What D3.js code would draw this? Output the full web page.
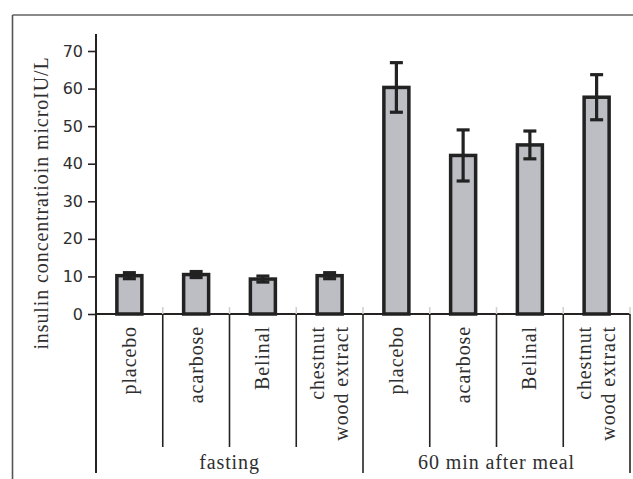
<!DOCTYPE html>
<html>
<head>
<meta charset="utf-8">
<script src="https://cdn.jsdelivr.net/npm/d3@7"></script>
<style>
  html, body { margin: 0; padding: 0; background: #fff; }
  svg { display: block; }
  .serif { font-family: 'Liberation Serif', 'Times New Roman', Times, serif; }
</style>
</head>
<body>
<script>
// ---- data ----
const groups = ["fasting", "60 min after meal"];
const treatments = [["placebo"], ["acarbose"], ["Belinal"], ["chestnut", "wood extract"]];
const fastingMeans = [10.2, 10.5, 9.3, 10.2];
const fastingErrors = [0.8, 0.8, 0.8, 0.8];
const mealMeans = [60.3, 42.2, 45.0, 57.7];
const mealErrors = [6.6, 6.8, 3.7, 6.0];
const yTicks = [0, 10, 20, 30, 40, 50, 60, 70];
const yLabel = "insulin concentratioin microIU/L";

const W = 633, H = 479;
const svg = d3.select("body").append("svg").attr("width", W).attr("height", H);

// rows
const rows = [];
groups.forEach((g, gi) => {
  const means = gi === 0 ? fastingMeans : mealMeans;
  const errs = gi === 0 ? fastingErrors : mealErrors;
  treatments.forEach((t, ti) => {
    rows.push({ key: gi + "-" + ti, group: g, gi, label: t, mean: means[ti], err: errs[ti] });
  });
});

const x = d3.scaleBand().domain(rows.map(d => d.key)).range([96, 630]).paddingInner(0).paddingOuter(0);
const y = d3.scaleLinear().domain([0, 70]).range([314, 51]);

// frame
svg.append("line").attr("x1", 12.5).attr("x2", W).attr("y1", 15).attr("y2", 15)
  .attr("stroke", "#8a8a8a").attr("stroke-width", 2);
svg.append("line").attr("x1", 12.5).attr("x2", 12.5).attr("y1", 15).attr("y2", H)
  .attr("stroke", "#555").attr("stroke-width", 1.6);

const ink = "#272222";

// y axis
const yAxis = d3.axisLeft(y).tickValues(yTicks).tickSize(8).tickSizeOuter(0).tickPadding(5);
const gy = svg.append("g").attr("transform", "translate(96,0)").call(yAxis);
gy.select(".domain").remove();
gy.selectAll(".tick line").attr("stroke", ink).attr("stroke-width", 1.6);
gy.selectAll(".tick text").attr("font-family", "DejaVu Sans, Verdana, sans-serif")
  .attr("font-size", 16).attr("fill", "#2f2f2f");
svg.append("line").attr("x1", 96).attr("x2", 96).attr("y1", y(74.5)).attr("y2", 473)
  .attr("stroke", ink).attr("stroke-width", 2);

// baseline
svg.append("line").attr("x1", 96).attr("x2", 630).attr("y1", y(0)).attr("y2", y(0))
  .attr("stroke", ink).attr("stroke-width", 2);

// separators
rows.forEach((d, i) => {
  const xr = x(d.key) + x.bandwidth();
  const isGroupEnd = (i % treatments.length) === treatments.length - 1;
  svg.append("line").attr("x1", xr).attr("x2", xr).attr("y1", y(0) - 7).attr("y2", y(0))
    .attr("stroke", "#cfcfcf").attr("stroke-width", 1.5);
  svg.append("line").attr("x1", xr).attr("x2", xr).attr("y1", y(0)).attr("y2", isGroupEnd ? 473 : 447)
    .attr("stroke", ink).attr("stroke-width", 1.6);
});

// bars
const barW = 25;
svg.append("g").selectAll("rect").data(rows).join("rect")
  .attr("x", d => x(d.key) + x.bandwidth() / 2 - barW / 2)
  .attr("y", d => y(d.mean))
  .attr("width", barW)
  .attr("height", d => y(0) - y(d.mean))
  .attr("fill", "#bcbec4")
  .attr("stroke", "#222")
  .attr("stroke-width", 3.5);

// error bars
const eg = svg.append("g").attr("stroke", "#222").attr("stroke-width", 3.2);
rows.forEach(d => {
  const cx = x(d.key) + x.bandwidth() / 2;
  eg.append("line").attr("x1", cx).attr("x2", cx).attr("y1", y(d.mean + d.err)).attr("y2", y(d.mean - d.err));
  [d.mean + d.err, d.mean - d.err].forEach(v => {
    eg.append("line").attr("x1", cx - 6.5).attr("x2", cx + 6.5).attr("y1", y(v)).attr("y2", y(v));
  });
});

// category labels
const fs = 20, ls = 0.9;
rows.forEach(d => {
  const cx = x(d.key) + x.bandwidth() / 2;
  const n = d.label.length;
  d.label.forEach((line, li) => {
    const off = (li - (n - 1) / 2) * 24;
    svg.append("text").attr("class", "serif")
      .attr("transform", `translate(${cx + off + 6.5},326) rotate(-90)`)
      .attr("text-anchor", "end")
      .attr("font-size", fs)
      .attr("letter-spacing", ls)
      .attr("fill", "#2f2f2f")
      .text(line);
  });
});

// group labels
groups.forEach((g, gi) => {
  const keys = rows.filter(r => r.gi === gi).map(r => r.key);
  const cx = (x(keys[0]) + x(keys[keys.length - 1]) + x.bandwidth()) / 2;
  svg.append("text").attr("class", "serif").attr("x", cx).attr("y", 469)
    .attr("text-anchor", "middle")
    .attr("font-size", fs)
    .attr("letter-spacing", ls)
    .attr("fill", "#2f2f2f")
    .text(g);
});

// y label
svg.append("text").attr("class", "serif")
  .attr("transform", "translate(48,203) rotate(-90)")
  .attr("text-anchor", "middle")
  .attr("font-size", fs)
  .attr("letter-spacing", ls)
  .attr("fill", "#2f2f2f")
  .text(yLabel);
</script>
</body>
</html>
